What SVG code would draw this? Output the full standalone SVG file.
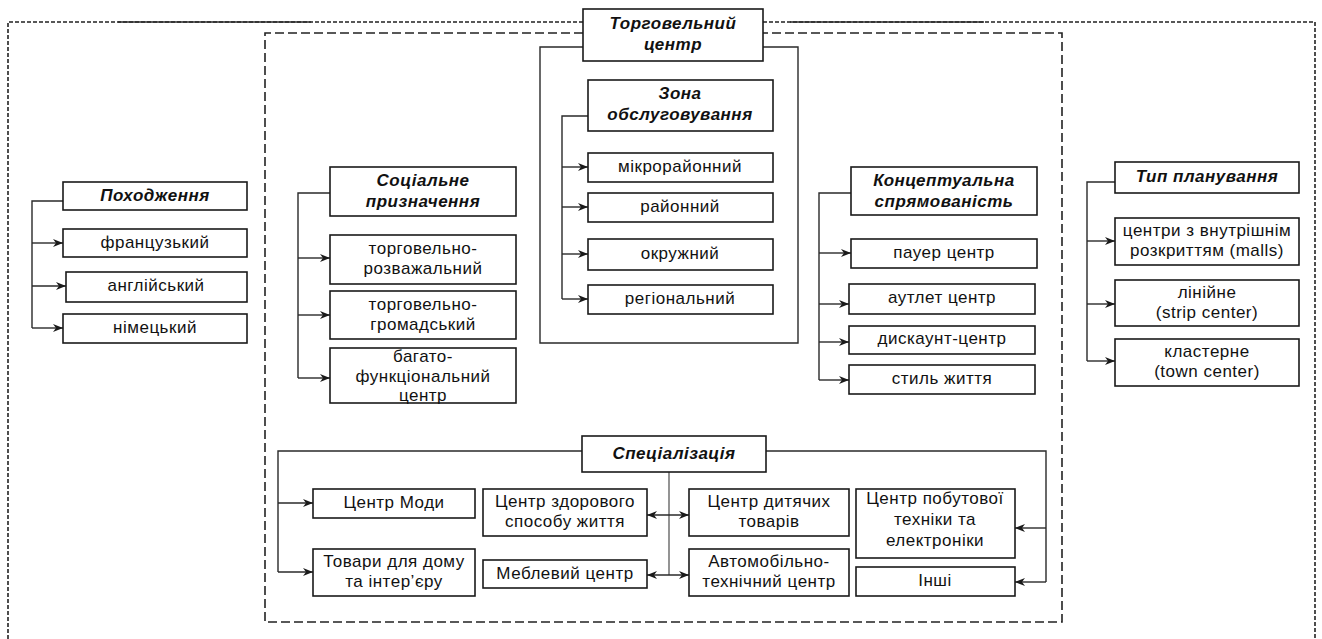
<svg xmlns="http://www.w3.org/2000/svg" width="1322" height="639" viewBox="0 0 1322 639">
<style>
.bx{fill:#fff;stroke:#1a1a1a;stroke-width:1.6}
.t{font-family:"Liberation Sans",Arial,sans-serif;font-size:17px;fill:#111;text-anchor:middle;letter-spacing:0.5px}
.h{font-weight:bold;font-style:italic}
.c{fill:none;stroke:#2a2a2a;stroke-width:1.4}
.g{fill:none;stroke:#666;stroke-width:1.4}
.od{fill:none;stroke:#222;stroke-width:1.6;stroke-dasharray:4 2}
.id{fill:none;stroke:#222;stroke-width:1.6;stroke-dasharray:9 4}
</style>
<defs>
<marker id="arr" viewBox="0 0 10 10" refX="10" refY="5" markerWidth="10" markerHeight="10" markerUnits="userSpaceOnUse" orient="auto-start-reverse">
<path d="M0,1 L10,5 L0,9 L3,5 z" fill="#1a1a1a"/>
</marker>
</defs>
<rect width="1322" height="639" fill="#fff"/>

<g id="frames">
<path class="od" d="M8,639 V22 H583 M763,22 H1315 V639"/>
<path class="c" d="M118,22 H311 M790,22 H984"/>
<path class="id" d="M583,33 H265 V622 H1062 V33 H763"/>
<path class="c" d="M583,47 H540 V343 H798 V47 H763"/>
</g>

<g id="connectors">
<path class="c" d="M63,201 H32 V328"/>
<path class="c" marker-end="url(#arr)" d="M32,243 H63"/>
<path class="c" marker-end="url(#arr)" d="M32,286 H66"/>
<path class="c" marker-end="url(#arr)" d="M32,328 H63"/>

<path class="c" d="M330,193 H298 V378"/>
<path class="c" marker-end="url(#arr)" d="M298,258 H330"/>
<path class="c" marker-end="url(#arr)" d="M298,315 H330"/>
<path class="c" marker-end="url(#arr)" d="M298,378 H330"/>

<path class="c" d="M588,116 H562 V299"/>
<path class="c" marker-end="url(#arr)" d="M562,167 H588"/>
<path class="c" marker-end="url(#arr)" d="M562,207 H588"/>
<path class="c" marker-end="url(#arr)" d="M562,254 H588"/>
<path class="c" marker-end="url(#arr)" d="M562,299 H588"/>

<path class="c" d="M851,193 H819 V380"/>
<path class="c" marker-end="url(#arr)" d="M819,253 H851"/>
<path class="c" marker-end="url(#arr)" d="M819,304 H849"/>
<path class="c" marker-end="url(#arr)" d="M819,342 H849"/>
<path class="c" marker-end="url(#arr)" d="M819,380 H849"/>

<path class="c" d="M1115,182 H1087 V361"/>
<path class="c" marker-end="url(#arr)" d="M1087,241 H1115"/>
<path class="c" marker-end="url(#arr)" d="M1087,304 H1115"/>
<path class="c" marker-end="url(#arr)" d="M1087,361 H1115"/>

<path class="c" d="M582,451 H278 V572"/>
<path class="c" marker-end="url(#arr)" d="M278,503 H313"/>
<path class="c" marker-end="url(#arr)" d="M278,572 H313"/>
<path class="c" d="M766,451 H1046 V582"/>
<path class="c" marker-end="url(#arr)" d="M1046,528 H1015"/>
<path class="c" marker-end="url(#arr)" d="M1046,582 H1015"/>
<path class="g" d="M669,472 V575"/>
<path class="c" marker-start="url(#arr)" marker-end="url(#arr)" d="M647,515 H689"/>
<path class="c" marker-start="url(#arr)" marker-end="url(#arr)" d="M647,575 H689"/>
</g>

<g id="n-title"><rect class="bx" x="583" y="9" width="180" height="52"/><text class="t h" x="673" y="29">Торговельний</text><text class="t h" x="673" y="50">центр</text></g>

<g id="n-zona"><rect class="bx" x="588" y="80" width="185" height="51"/><text class="t h" x="680" y="99">Зона</text><text class="t h" x="680" y="120">обслуговування</text></g>
<g id="n-mikro"><rect class="bx" x="588" y="153" width="185" height="29"/><text class="t" x="680" y="172">мікрорайонний</text></g>
<g id="n-raion"><rect class="bx" x="588" y="193" width="185" height="29"/><text class="t" x="680" y="212">районний</text></g>
<g id="n-okruzh"><rect class="bx" x="588" y="239" width="185" height="31"/><text class="t" x="680" y="259">окружний</text></g>
<g id="n-region"><rect class="bx" x="588" y="285" width="185" height="29"/><text class="t" x="680" y="304">регіональний</text></g>

<g id="n-pokh"><rect class="bx" x="63" y="182" width="184" height="28"/><text class="t h" x="155" y="201">Походження</text></g>
<g id="n-fr"><rect class="bx" x="63" y="229" width="184" height="28"/><text class="t" x="155" y="248">французький</text></g>
<g id="n-en"><rect class="bx" x="66" y="272" width="181" height="30"/><text class="t" x="156" y="291">англійський</text></g>
<g id="n-de"><rect class="bx" x="63" y="314" width="184" height="29"/><text class="t" x="155" y="333">німецький</text></g>

<g id="n-soc"><rect class="bx" x="330" y="167" width="186" height="49"/><text class="t h" x="423" y="186">Соціальне</text><text class="t h" x="423" y="207">призначення</text></g>
<g id="n-soc1"><rect class="bx" x="330" y="235" width="186" height="49"/><text class="t" x="423" y="254">торговельно-</text><text class="t" x="423" y="274">розважальний</text></g>
<g id="n-soc2"><rect class="bx" x="330" y="291" width="186" height="48"/><text class="t" x="423" y="310">торговельно-</text><text class="t" x="423" y="330">громадський</text></g>
<g id="n-soc3"><rect class="bx" x="330" y="348" width="186" height="55"/><text class="t" x="423" y="362">багато-</text><text class="t" x="423" y="382">функціональний</text><text class="t" x="423" y="401">центр</text></g>

<g id="n-konc"><rect class="bx" x="851" y="167" width="186" height="48"/><text class="t h" x="944" y="186">Концептуальна</text><text class="t h" x="944" y="207">спрямованість</text></g>
<g id="n-pauer"><rect class="bx" x="851" y="239" width="186" height="29"/><text class="t" x="944" y="258">пауер центр</text></g>
<g id="n-autlet"><rect class="bx" x="849" y="284" width="186" height="30"/><text class="t" x="942" y="303">аутлет центр</text></g>
<g id="n-disk"><rect class="bx" x="849" y="326" width="186" height="28"/><text class="t" x="942" y="344">дискаунт-центр</text></g>
<g id="n-styl"><rect class="bx" x="849" y="365" width="186" height="29"/><text class="t" x="942" y="384">стиль життя</text></g>

<g id="n-typ"><rect class="bx" x="1115" y="162" width="184" height="31"/><text class="t h" x="1207" y="182">Тип планування</text></g>
<g id="n-malls"><rect class="bx" x="1115" y="218" width="184" height="47"/><text class="t" x="1207" y="236">центри з внутрішнім</text><text class="t" x="1207" y="256">розкриттям (malls)</text></g>
<g id="n-strip"><rect class="bx" x="1115" y="280" width="184" height="46"/><text class="t" x="1207" y="298">лінійне</text><text class="t" x="1207" y="318">(strip center)</text></g>
<g id="n-town"><rect class="bx" x="1115" y="339" width="184" height="47"/><text class="t" x="1207" y="357">кластерне</text><text class="t" x="1207" y="377">(town center)</text></g>

<g id="n-spec"><rect class="bx" x="582" y="436" width="184" height="36"/><text class="t h" x="674" y="459">Спеціалізація</text></g>
<g id="n-mody"><rect class="bx" x="313" y="489" width="162" height="29"/><text class="t" x="394" y="508">Центр Моди</text></g>
<g id="n-dim"><rect class="bx" x="313" y="549" width="162" height="47"/><text class="t" x="394" y="567">Товари для дому</text><text class="t" x="394" y="587">та інтер’єру</text></g>
<g id="n-zdor"><rect class="bx" x="483" y="489" width="164" height="47"/><text class="t" x="565" y="507">Центр здорового</text><text class="t" x="565" y="527">способу життя</text></g>
<g id="n-mebl"><rect class="bx" x="483" y="560" width="164" height="28"/><text class="t" x="565" y="579">Меблевий центр</text></g>
<g id="n-dit"><rect class="bx" x="689" y="489" width="160" height="47"/><text class="t" x="769" y="507">Центр дитячих</text><text class="t" x="769" y="527">товарів</text></g>
<g id="n-avto"><rect class="bx" x="689" y="549" width="160" height="47"/><text class="t" x="769" y="567">Автомобільно-</text><text class="t" x="769" y="587">технічний центр</text></g>
<g id="n-pobut"><rect class="bx" x="856" y="489" width="159" height="69"/><text class="t" x="935" y="504">Центр побутової</text><text class="t" x="935" y="525">техніки та</text><text class="t" x="935" y="546">електроніки</text></g>
<g id="n-inshi"><rect class="bx" x="856" y="567" width="159" height="29"/><text class="t" x="935" y="586">Інші</text></g>
</svg>
